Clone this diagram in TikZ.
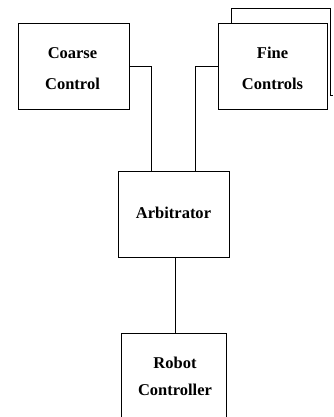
\documentclass[tikz,border=0pt]{standalone}
\usepackage{fontspec}
\setmainfont{Liberation Serif}
\begin{document}
\begin{tikzpicture}[x=1pt,y=-1pt,
  box/.style={draw, line width=0.9pt, fill=white, inner sep=0pt},
  txt/.style={inner sep=0pt, align=center, font=\fontsize{16.5}{31}\selectfont\bfseries},
  wire/.style={line width=0.9pt}]
\useasboundingbox (0,0) rectangle (333,417);
% back box of fine controls
\draw[wire] (231,95) -- (231,8) -- (330,8) -- (330,95) -- (333,95);
\node[box, minimum width=111, minimum height=86] (cc) at (73.5,66) {};
\node[txt] (cct) at ([xshift=-1,yshift=-2.5]cc.center) {Coarse\\Control};
\node[box, minimum width=109, minimum height=86] (fc) at (272.5,66) {};
\node[txt] (fct) at ([yshift=-2.5]fc.center) {Fine\\Controls};
\node[box, minimum width=111, minimum height=86] (arb) at (173.5,214) {};
\node[txt] (arbt) at ([yshift=1]arb.center) {Arbitrator};
\node[inner sep=0pt, minimum width=104, minimum height=83] (rc) at (174,375.5) {};
\node[txt, font=\fontsize{16.5}{27}\selectfont\bfseries] (rct) at ([xshift=1,yshift=-1]rc.center) {Robot\\Controller};
\draw[wire] (rc.south west) -- (rc.north west) -- (rc.north east) -- (rc.south east);
\draw[wire] (cc.east) -| ([xshift=-22.5]arb.north);
\draw[wire] (fc.west) -| ([xshift=21.5]arb.north);
\draw[wire] ([xshift=2]arb.south) -- ([xshift=2]arb.south |- rc.north);
\end{tikzpicture}
\end{document}
